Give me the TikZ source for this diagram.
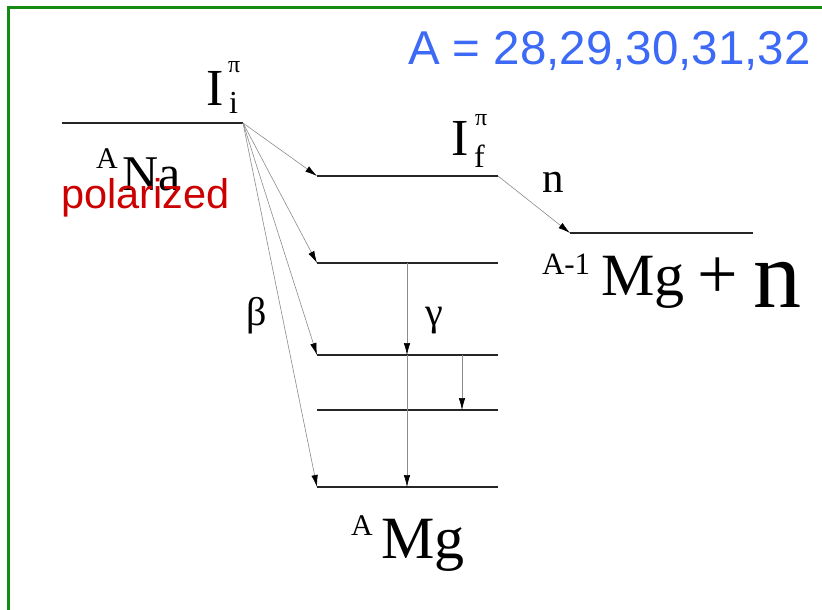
\documentclass[tikz,border=0pt]{standalone}
\usepackage{fontspec}
\setmainfont{Liberation Serif}
\newfontfamily\arialfont{Liberation Sans}
\usetikzlibrary{arrows.meta}
\definecolor{titleblue}{RGB}{60,105,245}
\definecolor{polred}{RGB}{204,0,0}
\definecolor{framegreen}{RGB}{20,140,20}
\tikzset{
  lvl/.style={line width=2pt, black!85},
  thinlvl/.style={line width=1.4pt, black!85},
  trans/.style={draw=black!45, line width=0.6pt, -{Latex[length=12pt,width=6.5pt,black]}},
  txt/.style={inner sep=0pt, outer sep=0pt, anchor=base west},
}
\newcommand{\fs}[1]{\fontsize{#1}{#1}\selectfont}
\begin{document}
\begin{tikzpicture}[x=1pt,y=-1pt]
\useasboundingbox (0,0) rectangle (822,610);
\fill[white] (0,0) rectangle (822,610);
\draw[framegreen, line width=3pt] (8,640) -- (8,8) -- (850,8);
% level coordinates
\coordinate (naL) at (62,123);  \coordinate (naR) at (243,123);
\coordinate (f1L) at (317,176); \coordinate (f1R) at (498,176);
\coordinate (f2L) at (317,263); \coordinate (f2R) at (498,263);
\coordinate (f3L) at (317,355); \coordinate (f3R) at (498,355);
\coordinate (f4L) at (317,410); \coordinate (f4R) at (498,410);
\coordinate (gL) at (317,487);  \coordinate (gR) at (498,487);
\coordinate (nL) at (570,233);  \coordinate (nR) at (753,233);
\coordinate (g2) at (407,263); \coordinate (g3) at (407,355); \coordinate (g5) at (407,487);
\coordinate (h3) at (462,355); \coordinate (h4) at (462,410);
% levels
\draw[lvl, line width=2.4pt] (naL) -- (naR);
\draw[lvl] (f1L) -- (f1R);
\draw[lvl] (f2L) -- (f2R);
\draw[thinlvl] (f3L) -- (f3R);
\draw[thinlvl] (f4L) -- (f4R);
\draw[lvl, line width=2.6pt] (gL) -- (gR);
\draw[lvl] (nL) -- (nR);
% beta transitions
\draw[trans] (naR) -- (f1L);
\draw[trans] (naR) -- (f2L);
\draw[trans] (naR) -- (f3L);
\draw[trans] (naR) -- (gL);
% neutron
\draw[trans] (f1R) -- (nL);
% gammas
\draw[trans] (g2) -- (g3);
\draw[trans] (g3) -- (g5);
\draw[trans] (h3) -- (h4);
% texts
\node[txt, text=titleblue] (title) at (408,64) {\arialfont\fs{47.5}A = 28,29,30,31,32};
\node[txt] (Ii) at (206,105) {\fs{52}I};
\node[txt] (Iipi) at (228,73) {\fs{24}π};
\node[txt] (Iisub) at (229,113) {\fs{32}i};
\node[txt] (If) at (451,155) {\fs{52}I};
\node[txt] (Ifpi) at (475,125) {\fs{24}π};
\node[txt] (Ifsub) at (474,167) {\fs{32}f};
\node[txt] (NaA) at (96,168) {\fs{30}A};
\node[txt] (Na) at (122,190) {\fs{50}Na};
\node[txt, text=polred] (pol) at (61,208) {\arialfont\fs{41.5}polarized};
\node[txt] (nlab) at (542,192) {\fs{43}n};
\node[txt] (beta) at (246,325) {\fs{40}β};
\node[txt] (gamma) at (425,325) {\fs{40}γ};
\node[txt] (MgA1) at (542,274) {\fs{31}A-1};
\node[txt] (Mgm) at (601,295) {\fs{60}Mg};
\node[txt] (plus) at (697,298) {\fs{72}+};
\node[txt] (nbig) at (753,307) {\fs{96}n};
\node[txt] (MgA) at (351,535) {\fs{30}A};
\node[txt] (Mg) at (381,558) {\fs{60}Mg};
\end{tikzpicture}
\end{document}
